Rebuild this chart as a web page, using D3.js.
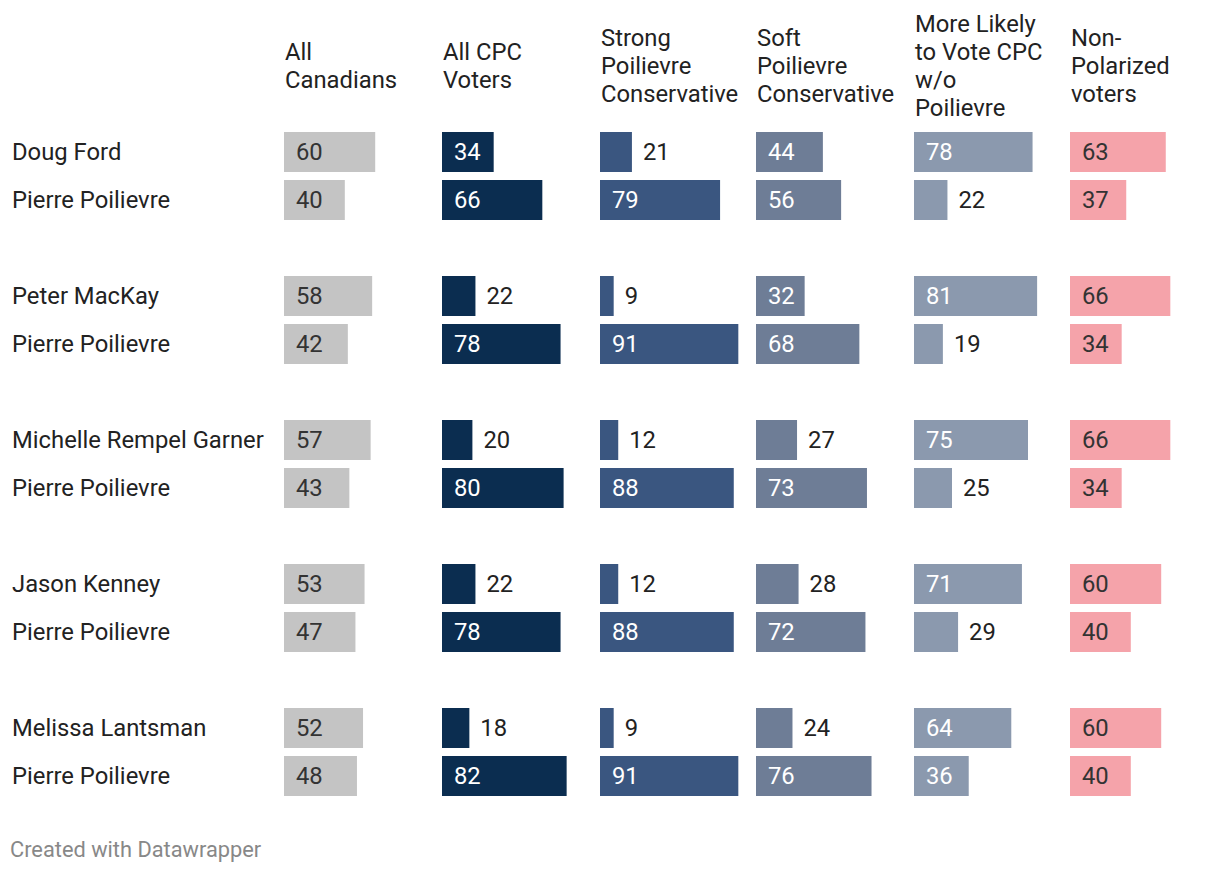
<!DOCTYPE html>
<html lang="en">
<head>
  <meta charset="UTF-8">
  <title>Poilievre head-to-head</title>
  <script src="https://d3js.org/d3.v7.min.js"></script>
  <style>
    body { margin: 0; font-family: Roboto, sans-serif; background: #fff; }
    svg { display: block; }
    text { font-family: Roboto, sans-serif; }
  </style>
</head>
<body>
  <script>
    const columns = [
      "All Canadians", "All CPC Voters", "Strong Poilievre Conservative",
      "Soft Poilievre Conservative", "More Likely to Vote CPC w/o Poilievre", "Non-Polarized voters"
    ];
    const headerLines = [
      ["All", "Canadians"],
      ["All CPC", "Voters"],
      ["Strong", "Poilievre", "Conservative"],
      ["Soft", "Poilievre", "Conservative"],
      ["More Likely", "to Vote CPC", "w/o", "Poilievre"],
      ["Non-", "Polarized", "voters"]
    ];
    const rivals = ["Doug Ford", "Peter MacKay", "Michelle Rempel Garner", "Jason Kenney", "Melissa Lantsman"];
    // rival share per column, then Poilievre share per column
    const rivalValues = [
      [60, 34, 21, 44, 78, 63],
      [58, 22, 9, 32, 81, 66],
      [57, 20, 12, 27, 75, 66],
      [53, 22, 12, 28, 71, 60],
      [52, 18, 9, 24, 64, 60]
    ];
    const poilievreValues = [
      [40, 66, 79, 56, 22, 37],
      [42, 78, 91, 68, 19, 34],
      [43, 80, 88, 73, 25, 34],
      [47, 78, 88, 72, 29, 40],
      [48, 82, 91, 76, 36, 40]
    ];
    const colors = ["#c4c4c4", "#0b2d50", "#3a5680", "#6e7d96", "#8b99ae", "#f5a3aa"];
    const darkText = [true, false, false, false, false, true];

    const width = 1220, height = 872;
    const svg = d3.select("body").append("svg")
      .attr("width", width).attr("height", height);

    const rows = [];
    rivals.forEach((r, i) => {
      rows.push({ name: r, group: i, sub: 0, values: rivalValues[i] });
      rows.push({ name: "Pierre Poilievre", group: i, sub: 1, values: poilievreValues[i] });
    });

    // column left edges (layout)
    const colX = d3.scaleOrdinal().domain(d3.range(columns.length)).range([284, 442, 600, 756, 914, 1070]);
    const w = d3.scaleLinear().domain([0, 100]).range([0, 152]);
    const rowY = d => 132 + d.group * 144 + d.sub * 48;
    const barH = 40;
    const fs = 23.8;

    headerLines.forEach((lines, c) => {
      const t = svg.append("text")
        .attr("font-size", fs)
        .attr("fill", "#222");
      const top = 66 - (lines.length - 1) * 14;
      lines.forEach((l, k) => {
        t.append("tspan").attr("x", colX(c) + 1).attr("y", top + k * 28).attr("dy", "0.35em").text(l);
      });
    });

    svg.selectAll(".rowlabel")
      .data(rows)
      .join("text")
      .attr("x", 12)
      .attr("y", d => rowY(d) + barH / 2)
      .attr("dy", "0.35em")
      .attr("font-size", fs)
      .attr("fill", "#222")
      .text(d => d.name);

    const cells = [];
    rows.forEach(r => r.values.forEach((v, c) => cells.push({ row: r, col: c, value: v })));

    svg.selectAll(".bar")
      .data(cells)
      .join("rect")
      .attr("x", d => colX(d.col))
      .attr("y", d => rowY(d.row))
      .attr("width", d => w(d.value))
      .attr("height", barH)
      .attr("fill", d => colors[d.col]);

    svg.selectAll(".val")
      .data(cells)
      .join("text")
      .attr("x", d => d.value >= 30 ? colX(d.col) + 12 : colX(d.col) + w(d.value) + 11)
      .attr("y", d => rowY(d.row) + barH / 2)
      .attr("dy", "0.35em")
      .attr("font-size", fs)
      .attr("fill", d => d.value >= 30 ? (darkText[d.col] ? "#333" : "#fff") : "#222")
      .text(d => d.value);

    svg.append("text")
      .attr("x", 10)
      .attr("y", 849)
      .attr("dy", "0.35em")
      .attr("font-size", 21.8)
      .attr("fill", "#888")
      .text("Created with Datawrapper");
  </script>
</body>
</html>
